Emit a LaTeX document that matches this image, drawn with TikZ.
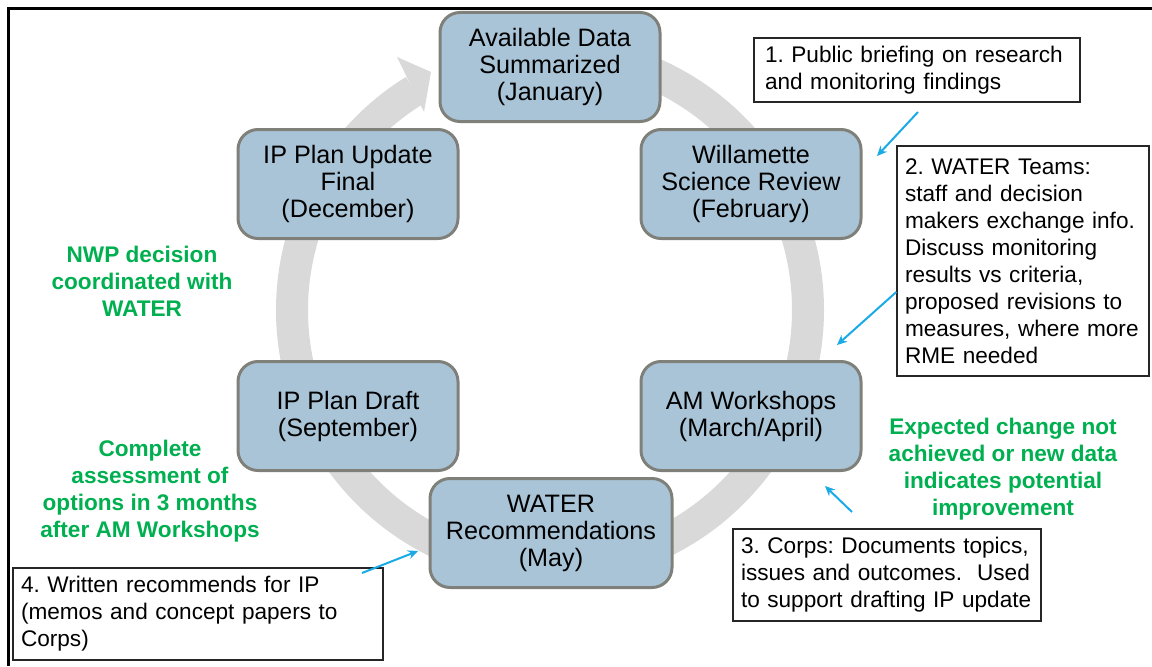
\documentclass[tikz,border=0pt]{standalone}
\usepackage{fontspec}
\setmainfont{Liberation Sans}
\usetikzlibrary{arrows.meta}

\definecolor{stagefill}{HTML}{A9C4D7}
\definecolor{stageline}{HTML}{80807A}
\definecolor{ringgray}{HTML}{D9D9D9}
\definecolor{remarkgreen}{HTML}{00B050}
\definecolor{pointerblue}{HTML}{1AAAE6}

\begin{document}
\frenchspacing
\hyphenpenalty=10000
\begin{tikzpicture}[x=0.5pt,y=0.5pt,
  stage/.style={draw=stageline, line width=1.5pt, fill=stagefill,
    rounded corners=10pt, minimum width=110pt, minimum height=54.5pt,
    align=center, font=\fontsize{12.6}{13.5}\selectfont},
  note/.style={draw=black!85, line width=0.7pt, fill=white, align=left,
    inner xsep=4pt, font=\fontsize{11.3}{13.5}\selectfont},
  remark/.style={text=remarkgreen, align=center,
    font=\fontsize{11.3}{13.5}\selectfont\bfseries},
  pointer/.style={draw=pointerblue, line width=1pt,
    -{Stealth[length=5pt,width=4.5pt]}},
  ring/.style={draw=ringgray, line width=16pt}]
\useasboundingbox (0,0) rectangle (1152,666);

% Frame (top and left edges only)
\draw[line width=1.5pt] (8,0) -- (8,657) -- (1152,657);

% Grey cycle arrow behind the stages
\coordinate (ctr) at (550,356);
\draw[ring] (ctr) ++(90:258) arc[start angle=90, end angle=-238.3, radius=258];
\fill[ringgray] (397,609) -- (431,594) -- (424,554) -- cycle;

% Stages of the yearly cycle
\node[stage] (jan) at (550,599) {Available Data\\Summarized\\(January)};
\node[stage] (feb) at (751,482) {Willamette\\Science Review\\(February)};
\node[stage] (apr) at (751,250) {AM Workshops\\(March/April)};
\node[stage, minimum width=121pt] (may) at (551,133) {WATER\\Recommendations\\(May)};
\node[stage] (sep) at (348,250) {IP Plan Draft\\(September)};
\node[stage] (dec) at (348,482) {IP Plan Update\\Final\\(December)};

% Green remarks
\node[remark] (nwp) at (142,385) {NWP decision\\coordinated with\\WATER};
\node[remark] (assess) at (150,175) {Complete\\assessment of\\options in 3 months\\after AM Workshops};
\node[remark] (expect) at (1003,197) {Expected change not\\achieved or new data\\indicates potential\\improvement};

% Numbered notes (text starts about 10px inside the frame)
\node[note, text width=155pt, minimum height=32pt] (brief) at (917,596)
  {\hspace*{1.5pt}1. Public briefing on research\\\hspace*{1.5pt}and monitoring findings};
\node[note, text width=118pt, minimum height=115pt] (teams) at (1023,405)
  {2. WATER Teams:\\staff and decision\\makers exchange info.\\Discuss monitoring\\results vs criteria,\\proposed revisions to\\measures, where more\\RME needed};
\node[note, text width=146pt, minimum height=46pt] (corps) at (887,91)
  {3. Corps: Documents topics,\\issues and outcomes.\ \ Used\\to support drafting IP update};
\node[note, text width=177pt, minimum height=46pt] (memos) at (198,52)
  {4. Written recommends for IP\\(memos and concept papers to\\Corps)};

% Blue pointers from the notes
\coordinate (p1) at (918,554);
\coordinate (q1) at (877,510);
\coordinate (p2) at ([yshift=-15.5pt]teams.west);
\coordinate (q2) at (837,321);
\coordinate (p3) at (852,154);
\coordinate (q3) at (825,180);
\coordinate (p4) at (362,93);
\coordinate (q4) at (418,115);
\draw[pointer] (p1) -- (q1);
\draw[pointer] (p2) -- (q2);
\draw[pointer] (p3) -- (q3);
\draw[pointer] (p4) -- (q4);

\end{tikzpicture}
\end{document}
